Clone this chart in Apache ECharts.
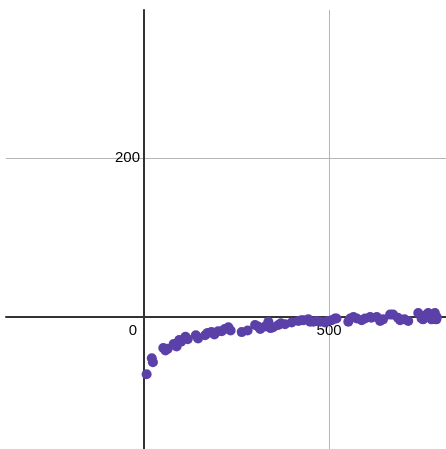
<!DOCTYPE html>
<html>
<head>
<meta charset="utf-8">
<script src="https://cdn.jsdelivr.net/npm/echarts@6/dist/echarts.min.js"></script>
<style>
  html, body { margin: 0; padding: 0; background: #fff; }
  #chart { width: 446px; height: 449px; }
</style>
</head>
<body>
<div id="chart"></div>
<script>
// data
var xVals = [7, 21, 24, 52, 58, 64, 80, 88, 95, 100, 112, 118, 140, 146, 165, 172, 182, 190, 200, 210,
    218, 228, 234, 264, 280, 300, 308, 314, 327, 336, 342, 349, 363, 370, 381, 399, 417, 425, 431, 444,
    449, 458, 467, 476, 489, 496, 507, 516, 520, 552, 557, 566, 575, 588, 597, 611, 614, 629, 638, 646,
    665, 673, 686, 692, 704, 714, 741, 750, 754, 764, 768, 777, 786, 790, 791];
var yVals = [-72, -52, -57, -39, -42, -40, -34, -37, -29, -31, -25, -28, -23, -27, -23, -20, -19, -22, -18, -18,
    -15, -13, -17, -19, -17, -10, -12, -15, -12, -6, -14, -13, -10, -8, -9, -7, -5, -4, -4, -3,
    -6, -6, -5, -6, -7, -5, -4, -2, -2, -6, -2, 0, -2, -4, -2, 0, -1, 0, -5, -3,
    3, 3, -1, -4, -3, -5, 5, -2, -3, 3, 5, -3, 5, -3, 0];
var xTicks = [0, 500];
var yTicks = [0, 200];
var yLabels = [200];

var points = [];
for (var i = 0; i < xVals.length; i++) {
    points.push([xVals[i], yVals[i]]);
}

var labelFont = 'Liberation Sans, Arial, sans-serif';

var myChart = echarts.init(document.getElementById('chart'));
myChart.setOption({
    animation: false,
    grid: {left: 6, right: 0, top: 10, bottom: 0, containLabel: false, outerBoundsMode: 'none'},
    xAxis: {
        type: 'value',
        min: -373,
        max: 816,
        position: 'bottom',
        offset: -132,    // move axis up to y = 0
        axisLine: {onZero: false, lineStyle: {color: '#333', width: 2}},
        axisTick: {show: false, customValues: xTicks},
        axisLabel: {
            customValues: xTicks,
            margin: 6,
            color: '#000',
            fontSize: 15,
            fontFamily: labelFont,
            formatter: function (v) {
                return v === 0 ? '{o|0}' : String(v);
            },
            rich: {
                o: {fontSize: 15, fontFamily: labelFont, color: '#000', padding: [0, 22, 0, 0]}
            }
        },
        splitLine: {show: true, lineStyle: {color: '#b5b5b5', width: 1}}
    },
    yAxis: {
        type: 'value',
        min: -166,
        max: 386,
        position: 'left',
        offset: -138,    // move axis right to x = 0
        axisLine: {onZero: false, lineStyle: {color: '#333', width: 2}},
        axisTick: {show: false, customValues: yTicks},
        axisLabel: {
            customValues: yLabels,
            margin: 4,
            color: '#000',
            fontSize: 15,
            fontFamily: labelFont
        },
        splitLine: {show: true, lineStyle: {color: '#b5b5b5', width: 1}}
    },
    series: [{
        type: 'scatter',
        data: points,
        symbolSize: 10,
        itemStyle: {color: '#5b40a8', opacity: 1}
    }]
});
</script>
</body>
</html>
